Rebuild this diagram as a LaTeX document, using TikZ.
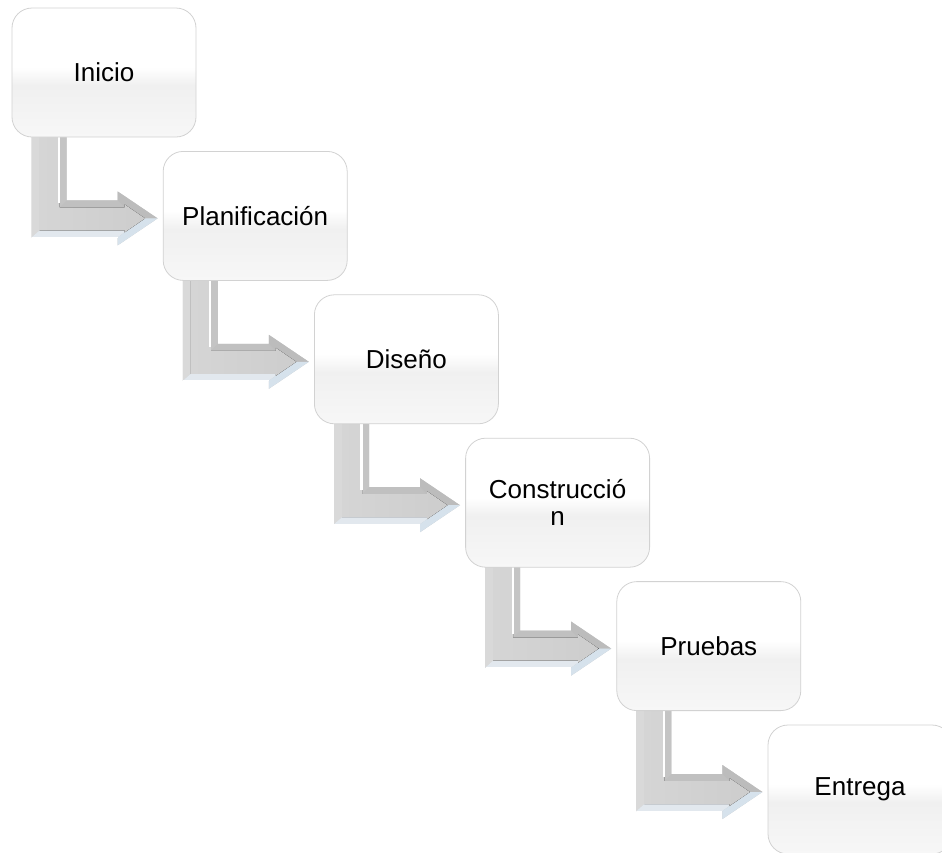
\documentclass[tikz,border=0pt]{standalone}
\usepackage{fontspec}
\setmainfont{Liberation Sans}
\usetikzlibrary{calc,backgrounds}

\definecolor{boxedge}{RGB}{210,210,210}
\definecolor{boxmid}{RGB}{240,240,240}
\definecolor{boxlow}{RGB}{247,247,247}
\definecolor{arrowbase}{RGB}{200,200,200}
\definecolor{arrowfaceA}{RGB}{213,213,213}
\definecolor{arrowfaceB}{RGB}{205,205,205}
\definecolor{bevelleft}{RGB}{217,217,217}
\definecolor{bevelright}{RGB}{196,196,196}
\definecolor{beveltop}{RGB}{192,192,192}
\definecolor{bevelhead}{RGB}{188,188,188}
\definecolor{bevellow}{RGB}{226,232,238}
\definecolor{bevelheadlow}{RGB}{214,226,236}

% white upper half, pale grey lower half
\pgfdeclareverticalshading{stepshade}{100bp}{%
  color(0bp)=(boxlow); color(25bp)=(boxlow); color(45bp)=(boxmid);
  color(52bp)=(white); color(100bp)=(white)}

\tikzset{
  stepbox/.style={draw=boxedge, line width=0.8pt, rounded corners=20pt,
    minimum width=184pt, minimum height=129pt, inner sep=0pt,
    shading=stepshade,
    text width=180pt, align=center,
    font=\fontsize{26}{27}\selectfont},
}

% bevelled bent arrow hanging below the south-west corner of a step box
\newcommand\elbowarrow[1]{%
  \begin{scope}[shift={(#1.south west)}]
    % silhouette
    \fill[arrowbase] (20,-2) -- (55,-2) -- (55,63) -- (106,63) -- (106,54)
      -- (146,81) -- (106,108) -- (106,100) -- (20,100) -- cycle;
    % bevel facets
    \fill[bevelleft]  (20,-2) -- (28,-2) -- (28,93) -- (20,100) -- cycle;
    \fill[bevelright] (48,-2) -- (55,-2) -- (55,63) -- (48,70) -- cycle;
    \fill[beveltop]   (48,70) -- (55,63) -- (106,63) -- (113,70) -- cycle;
    \fill[bevelhead]  (106,63) -- (106,54) -- (146,81) -- (133.5,81)
      -- (113,67) -- (113,70) -- cycle;
    \fill[bevellow]   (20,100) -- (28,93) -- (113,93) -- (113,95)
      -- (106,100) -- cycle;
    \fill[bevelheadlow] (106,100) -- (113,95) -- (133.5,81) -- (146,81)
      -- (106,108) -- cycle;
    % front face
    \fill[left color=arrowfaceA, right color=arrowfaceB]
      (28,-2) -- (48,-2) -- (48,70) -- (113,70) -- (113,67)
      -- (133.5,81) -- (113,95) -- (113,93) -- (28,93) -- cycle;
    % highlight on the inner edge
    \draw[white, line width=2.2pt] (47.5,-2) -- (47.5,66);
    \draw[white, line width=0.8pt] (20.4,100) -- (106,100);
  \end{scope}}

\begin{document}
\begin{tikzpicture}[x=1pt, y=-1pt]
  \useasboundingbox (0,0) rectangle (942,852);

  \node[stepbox] (b1) at (104.0,  72.5) {Inicio};
  \node[stepbox] (b2) at (255.2, 215.9) {Planificación};
  \node[stepbox] (b3) at (406.4, 359.3) {Diseño};
  \node[stepbox] (b4) at (557.6, 502.7) {Construcció\\n};
  \node[stepbox] (b5) at (708.8, 646.1) {Pruebas};
  \node[stepbox] (b6) at (860.0, 789.5) {Entrega};

  \begin{scope}[on background layer]
    \foreach \b in {b1,b2,b3,b4,b5} {\elbowarrow{\b}}
  \end{scope}
\end{tikzpicture}
\end{document}
